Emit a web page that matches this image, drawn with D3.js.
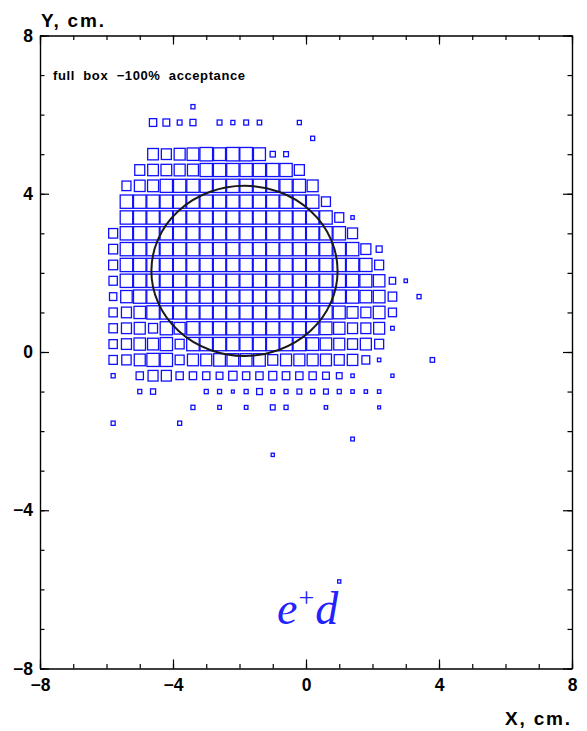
<!DOCTYPE html>
<html>
<head>
<meta charset="utf-8">
<script src="https://cdn.jsdelivr.net/npm/d3@7"></script>
<style>
  html, body { margin: 0; padding: 0; background: #fff; }
  svg { display: block; }
</style>
</head>
<body>
<div id="chart"></div>
<script>
// ---- data ----
// bin centres (cm)
const binX = [-5.8, -5.4, -5.0, -4.6, -4.2, -3.8, -3.4, -3.0, -2.6, -2.2, -1.8, -1.4, -1.0,
              -0.6, -0.2, 0.2, 0.6, 1.0, 1.4, 1.8, 2.2, 2.6, 3.0, 3.4, 3.8];
const binY = [6.2, 5.8, 5.4, 5.0, 4.6, 4.2, 3.8, 3.4, 3.0, 2.6, 2.2, 1.8, 1.4, 1.0, 0.6, 0.2,
              -0.2, -0.6, -1.0, -1.4, -1.8, -2.2, -2.6, -5.8];
// relative bin contents (rows follow binY, columns follow binX)
const contents = [
  [ 0, 0, 0, 0, 0, 0,10, 0, 0, 0, 0, 0, 0, 0, 0, 0, 0, 0, 0, 0, 0, 0, 0, 0, 0],
  [ 0, 0, 0,33,28,14,22, 0,14,10,14,12, 0, 0,10, 0, 0, 0, 0, 0, 0, 0, 0, 0, 0],
  [ 0, 0, 0, 0, 0, 0, 0, 0, 0, 0, 0, 0, 0, 0, 0,10, 0, 0, 0, 0, 0, 0, 0, 0, 0],
  [ 0, 0, 0,71,62,75,85,99,89,99,99,89,17,14, 0, 0, 0, 0, 0, 0, 0, 0, 0, 0, 0],
  [ 0, 0,62,71,71,75,75,94,94,94,94,94,94,94,62, 0, 0, 0, 0, 0, 0, 0, 0, 0, 0],
  [ 0,50,71,75,94,94,94,94,97,97,97,97,94,94,94,75, 0, 0, 0, 0, 0, 0, 0, 0, 0],
  [ 0,97,97,97,97,97,97,97,97,97,97,97,97,97,97,97,50, 0, 0, 0, 0, 0, 0, 0, 0],
  [ 0,97,97,97,97,97,97,97,97,97,97,97,97,97,97,97,97,50, 7, 0, 0, 0, 0, 0, 0],
  [50,97,97,97,97,97,97,97,97,97,97,97,97,97,97,97,97,97,62, 0, 0, 0, 0, 0, 0],
  [50,97,97,97,97,97,97,97,97,97,97,97,97,97,97,97,97,97,97,62,22, 0, 0, 0, 0],
  [50,97,97,97,97,97,97,97,97,97,97,97,97,97,97,97,97,97,97,94,50, 0, 0, 0, 0],
  [43,97,97,97,97,97,97,97,97,97,97,97,97,97,97,97,97,97,94,89,82,25, 7, 0, 0],
  [33,82,97,97,97,97,97,97,97,97,97,97,97,97,97,97,97,97,94,85,85,45, 0,10, 0],
  [43,62,82,97,97,97,97,97,97,97,97,97,97,97,97,97,97,89,75,62,85,40, 0, 0, 0],
  [45,62,75,50,94,75,97,97,97,97,97,97,97,97,97,97,89,80,62,62,75, 8, 0, 0, 0],
  [43,62,82,75,94,50,97,97,97,97,97,97,97,97,97,89,82,75,62,75,50, 0, 0, 0, 0],
  [43,54,75,94,94,50,75,75,85,85,85,85,62,75,75,75,75,62,68,38, 7, 0, 0, 0,12],
  [10, 0,33,62,62,33,33,33,28,43,33,33,40,35,33,33,28,20, 7, 0, 0, 6, 0, 0, 0],
  [ 0, 0,10,16, 0, 0, 0,10,10, 5,10,20, 8,10,14,10,14,10, 7, 7, 7, 0, 0, 0, 0],
  [ 0, 0, 0, 0, 0, 0,10, 0, 8, 0, 8, 0,14,10, 0, 0, 7, 0, 0, 0, 5, 0, 0, 0, 0],
  [10, 0, 0, 0, 0,10, 0, 0, 0, 0, 0, 0, 0, 0, 0, 0, 0, 0, 0, 0, 0, 0, 0, 0, 0],
  [ 0, 0, 0, 0, 0, 0, 0, 0, 0, 0, 0, 0, 0, 0, 0, 0, 0, 0, 8, 0, 0, 0, 0, 0, 0],
  [ 0, 0, 0, 0, 0, 0, 0, 0, 0, 0, 0, 0, 6, 0, 0, 0, 0, 0, 0, 0, 0, 0, 0, 0, 0],
  [ 0, 0, 0, 0, 0, 0, 0, 0, 0, 0, 0, 0, 0, 0, 0, 0, 0, 6, 0, 0, 0, 0, 0, 0, 0]
];
const majorTicks = [-8, -4, 0, 4, 8];
const minorTicks = d3.range(-8, 8.01, 1);
const acceptanceCircle = { cx: -1.85, cy: 2.05, rx: 2.8, ry: 2.15 };
const xTitle = "X, cm.";
const yTitle = "Y, cm.";
const noteText = "full  box  \u2212100%  acceptance";

// ---- drawing ----
const W = 587, H = 731;
const svg = d3.select("#chart").append("svg").attr("width", W).attr("height", H);
const x = d3.scaleLinear().domain([-8, 8]).range([40, 572]);
const y = d3.scaleLinear().domain([-8, 8]).range([668.5, 35.5]);
const sizeW = d3.scaleSqrt().domain([0, 100]).range([0, 12.7]);
const sizeH = d3.scaleSqrt().domain([0, 100]).range([0, 13.5]);

const font = "'Liberation Sans', Arial, Helvetica, sans-serif";

// boxes
const cells = [];
binY.forEach((yv, j) => binX.forEach((xv, i) => {
  const c = contents[j][i];
  if (c > 0) cells.push({ x: xv, y: yv, c });
}));
svg.append("g").selectAll("rect").data(cells).join("rect")
  .attr("x", d => x(d.x) - sizeW(d.c) / 2)
  .attr("y", d => y(d.y) - sizeH(d.c) / 2)
  .attr("width", d => sizeW(d.c))
  .attr("height", d => sizeH(d.c))
  .attr("fill", "none")
  .attr("stroke", "#1010ff")
  .attr("stroke-width", 1.3);

// ellipse / circle
svg.append("ellipse")
  .attr("cx", x(acceptanceCircle.cx)).attr("cy", y(acceptanceCircle.cy))
  .attr("rx", x(acceptanceCircle.rx) - x(0)).attr("ry", y(0) - y(acceptanceCircle.ry))
  .attr("fill", "none").attr("stroke", "#1a1a1a").attr("stroke-width", 2);

// axes
function axisGroup(axis, transform) {
  const g = svg.append("g").attr("transform", transform).call(axis);
  g.select(".domain").attr("stroke", "#000").attr("stroke-width", 1.2);
  g.selectAll(".tick line").attr("stroke", "#000").attr("stroke-width", 1.2);
  return g;
}
const fmt = d3.format("d");
// bottom
axisGroup(d3.axisBottom(x).tickValues(minorTicks).tickSize(-4.5).tickFormat("").tickSizeOuter(0), `translate(0,${y(-8)})`);
const gxb = axisGroup(d3.axisBottom(x).tickValues(majorTicks).tickSize(-9).tickPadding(10).tickFormat(fmt).tickSizeOuter(0), `translate(0,${y(-8)})`);
// top
axisGroup(d3.axisTop(x).tickValues(minorTicks).tickSize(-4.5).tickFormat("").tickSizeOuter(0), `translate(0,${y(8)})`);
axisGroup(d3.axisTop(x).tickValues(majorTicks).tickSize(-9).tickFormat("").tickSizeOuter(0), `translate(0,${y(8)})`);
// left
axisGroup(d3.axisLeft(y).tickValues(minorTicks).tickSize(-4.5).tickFormat("").tickSizeOuter(0), `translate(${x(-8)},0)`);
const gyl = axisGroup(d3.axisLeft(y).tickValues(majorTicks).tickSize(-9).tickPadding(7).tickFormat(fmt).tickSizeOuter(0), `translate(${x(-8)},0)`);
// right
axisGroup(d3.axisRight(y).tickValues(minorTicks).tickSize(-4.5).tickFormat("").tickSizeOuter(0), `translate(${x(8)},0)`);
axisGroup(d3.axisRight(y).tickValues(majorTicks).tickSize(-9).tickFormat("").tickSizeOuter(0), `translate(${x(8)},0)`);

[gxb, gyl].forEach(g => g.selectAll("text")
  .attr("font-family", font).attr("font-weight", "bold").attr("font-size", 17.5).attr("fill", "#000"));
gxb.selectAll("text").attr("dy", "0.71em");

// titles
svg.append("text").attr("x", 41).attr("y", 26.5).text(yTitle)
  .attr("font-family", font).attr("font-weight", "bold").attr("font-size", 19)
  .attr("textLength", 63).attr("lengthAdjust", "spacing");
svg.append("text").attr("x", 505).attr("y", 725).text(xTitle)
  .attr("font-family", font).attr("font-weight", "bold").attr("font-size", 19)
  .attr("textLength", 65).attr("lengthAdjust", "spacing");

// note
svg.append("text").attr("x", 53).attr("y", 80).text(noteText)
  .attr("font-family", font).attr("font-weight", "bold").attr("font-size", 13)
  .attr("textLength", 192).attr("lengthAdjust", "spacing")
  .style("white-space", "pre");

// reaction label e+d
const lab = svg.append("text").attr("x", 277).attr("y", 624)
  .attr("font-family", "'Liberation Serif', 'Times New Roman', serif")
  .attr("font-style", "italic").attr("font-size", 46).attr("fill", "#2222ff");
lab.append("tspan").text("e");
lab.append("tspan").text("+").attr("font-style", "normal").attr("font-size", 28).attr("dy", -17).attr("dx", 1);
lab.append("tspan").text("d").attr("dy", 17).attr("dx", 1);
</script>
</body>
</html>
